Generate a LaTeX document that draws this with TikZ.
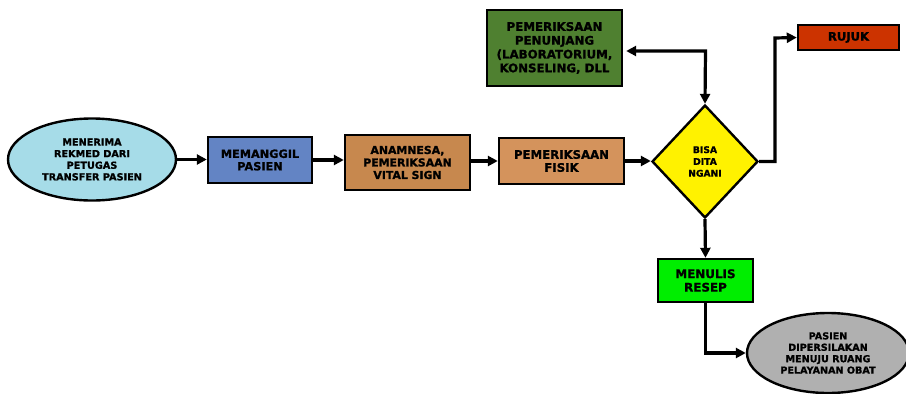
\documentclass[tikz,border=0pt]{standalone}
\usepackage{fontspec}
\setmainfont{DejaVu Sans}[BoldFeatures={FakeBold=1.2}]
\usetikzlibrary{shapes.geometric,arrows.meta}
\definecolor{cblue}{HTML}{A6DCE8}
\definecolor{cbox}{HTML}{6384C4}
\definecolor{cbrown}{HTML}{C7884E}
\definecolor{ctan}{HTML}{D4935C}
\definecolor{cgreen}{HTML}{4F8030}
\definecolor{cred}{HTML}{CC3300}
\definecolor{clime}{HTML}{00EE00}
\definecolor{cgray}{HTML}{B0B0B0}
\tikzset{
  box/.style={draw=black, line width=2.4pt, rectangle, align=center, inner sep=1pt, font=\bfseries},
  oval/.style={draw=black, line width=2.4pt, ellipse, align=center, inner sep=0pt, font=\bfseries},
  arr/.style={line width=3.2pt, -{Triangle[length=10pt,width=10pt]}},
  darr/.style={line width=3.2pt, {Triangle[length=10pt,width=10pt]}-{Triangle[length=10pt,width=10pt]}}
}
\begin{document}
\begin{tikzpicture}[x=1pt,y=-1pt]
\useasboundingbox (0,0) rectangle (906,394);
\fill[white] (0,0) rectangle (906,394);
\node[oval, fill=cblue, minimum width=168pt, minimum height=82pt, font=\bfseries\fontsize{9.7}{11.6}\selectfont] (e1) at (92,159.5) {MENERIMA\\REKMED DARI\\PETUGAS\\TRANSFER PASIEN};
\node[box, fill=cbox, minimum width=104pt, minimum height=46pt, font=\bfseries\fontsize{11.3}{12.5}\selectfont] (b1) at (260,160) {MEMANGGIL\\PASIEN};
\node[box, fill=cbrown, minimum width=125pt, minimum height=55pt, font=\bfseries\fontsize{10.9}{12.5}\selectfont] (b2) at (407.5,162.5) {ANAMNESA,\\PEMERIKSAAN\\VITAL SIGN};
\node[box, fill=ctan, minimum width=125pt, minimum height=46pt, font=\bfseries\fontsize{11.7}{13}\selectfont] (b3) at (561.5,161) {PEMERIKSAAN\\FISIK};
\node[draw=black, line width=2.4pt, diamond, fill=yellow, minimum width=106pt, minimum height=113pt, inner sep=0pt, align=center, font=\bfseries\fontsize{9.2}{11.8}\selectfont] (d) at (705,161.5) {BISA\\DITA\\NGANI};
\node[box, fill=cgreen, minimum width=135pt, minimum height=76pt, font=\bfseries\fontsize{11.8}{13.8}\selectfont] (g) at (554.5,48) {PEMERIKSAAN\\PENUNJANG\\(LABORATORIUM,\\KONSELING, DLL};
\node[box, fill=cred, minimum width=101pt, minimum height=25pt, font=\bfseries\fontsize{11.6}{13}\selectfont] (r) at (848.5,37.5) {RUJUK};
\node[box, fill=clime, minimum width=95pt, minimum height=43pt, font=\bfseries\fontsize{11.9}{13.5}\selectfont] (m) at (705.5,280.5) {MENULIS\\RESEP};
\node[oval, fill=cgray, minimum width=162pt, minimum height=80pt, font=\bfseries\fontsize{9.6}{11.4}\selectfont] (e2) at (828,353) {PASIEN\\DIPERSILAKAN\\MENUJU RUANG\\PELAYANAN OBAT};
\coordinate (k) at (705.5,51);
\coordinate (j) at (775,38);
\draw[arr] (e1.east) -- (e1.east -| b1.west);
\draw[arr] (b1.east) -- (b1.east -| b2.west);
\draw[arr] (b2.east |- b3.west) -- (b3.west);
\draw[arr] (b3.east) -- (b3.east -| d.west);
\draw[darr] ([xshift=3pt]g.east |- k) -- (k) -- (d.north);
\draw[arr] (d.east) -| (j) -- (r.west);
\draw[arr] (d.south) -- (m.north);
\draw[arr] (m.south) |- (e2.west);
\end{tikzpicture}
\end{document}
